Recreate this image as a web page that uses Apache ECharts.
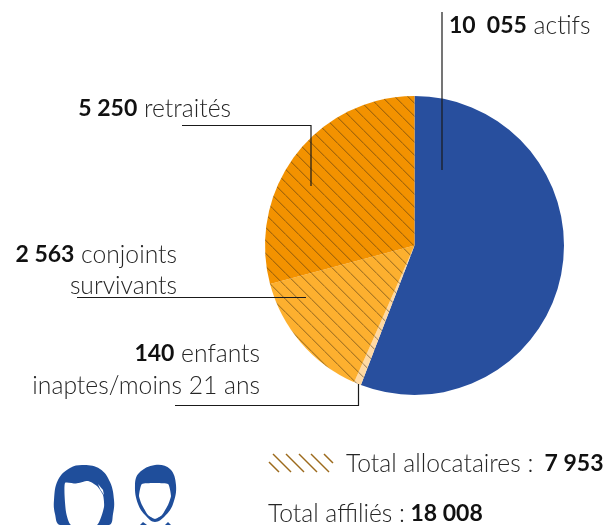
<!DOCTYPE html>
<html>
<head>
<meta charset="utf-8">
<script src="https://cdn.jsdelivr.net/npm/echarts@6/dist/echarts.min.js"></script>
<style>
    html, body { margin: 0; padding: 0; background: #fff; }
    #chart { width: 615px; height: 525px; }
</style>
</head>
<body>
<div id="chart"></div>
<script>
const categories = ['actifs', 'enfants inaptes/moins 21 ans', 'conjoints survivants', 'retraités'];
const values = [10055, 140, 2563, 5250];
const colors = ['#284f9e', '#ffd9a3', '#fdb02f', '#f39200'];
const hatched = [false, true, true, true];
const totalAllocataires = '7 953';
const totalAffilies = '18 008';

const chart = echarts.init(document.getElementById('chart'));
const font = 'Lato';
const textColor = '#262626';
const iconColor = '#1f4e9b';

// texte avec chiffre en gras
function label(x, y, parts, align) {
    return {
        type: 'text',
        x: x,
        y: y,
        style: {
            text: parts,
            align: align || 'right',
            verticalAlign: 'middle',
            rich: {
                b: { fontFamily: font, fontWeight: 700, fontSize: 23, fill: '#111' },
                l: { fontFamily: font, fontWeight: 300, fontSize: 24.7, fill: textColor }
            }
        }
    };
}

function leader(points) {
    return {
        type: 'polyline',
        z: 10,
        shape: { points: points },
        style: { stroke: '#1a1a1a', lineWidth: 1.2, fill: null }
    };
}

function blob(points, fill, smooth) {
    return { type: 'polygon', shape: { points: points, smooth: smooth }, style: { fill: fill } };
}

// hachures : tuile de 13px avec une diagonale
function hatch(base) {
    const size = 13;
    const off = -0.7;
    const canvas = document.createElement('canvas');
    canvas.width = size;
    canvas.height = size;
    const ctx = canvas.getContext('2d');
    ctx.fillStyle = base;
    ctx.fillRect(0, 0, size, size);
    ctx.strokeStyle = 'rgba(70, 50, 20, 0.6)';
    ctx.lineWidth = 1;
    for (let k = -1; k <= 1; k++) {
        ctx.beginPath();
        ctx.moveTo(k * size + off, 0);
        ctx.lineTo(k * size + off + size, size);
        ctx.stroke();
    }
    return { image: canvas, repeat: 'repeat' };
}

const legendHatch = [
    [269, 462, 279, 472],
    [273, 454, 291, 472],
    [286, 454, 304, 472],
    [299, 454, 317, 472],
    [311, 454, 329, 472],
    [324, 454, 333, 463]
];

chart.setOption({
    animation: false,
    backgroundColor: '#fff',
    series: [{
        type: 'pie',
        center: [414.5, 245.5],
        radius: [0, 149.5],
        startAngle: 90,
        clockwise: true,
        silent: true,
        label: { show: false },
        labelLine: { show: false },
        data: categories.map((name, i) => ({
            name: name,
            value: values[i],
            itemStyle: { color: hatched[i] ? hatch(colors[i]) : colors[i] }
        }))
    }],
    graphic: [
        leader([[442, 12], [442, 170]]),
        leader([[182, 125.5], [311, 125.5], [311, 186]]),
        leader([[77, 297.5], [306, 297.5]]),
        leader([[175, 405.5], [358.5, 405.5], [358.5, 384]]),

        label(449, 26, '{b|10  055}{l| actifs}', 'left'),
        label(231, 109, '{b|5 250}{l| retraités}'),
        label(177, 255, '{b|2 563}{l| conjoints}'),
        label(177, 286, '{l|survivants}'),
        label(260, 354, '{b|140}{l| enfants}'),
        label(260, 386, '{l|inaptes/moins 21 ans}'),
        label(346, 464, '{l|Total allocataires :}{b|  ' + totalAllocataires + '}', 'left'),
        label(268, 514, '{l|Total affiliés :}{b| ' + totalAffilies + '}', 'left'),

        // petit motif de la légende
        ...legendHatch.map(s => ({
            type: 'line',
            shape: { x1: s[0], y1: s[1], x2: s[2], y2: s[3] },
            style: { stroke: '#9c6a1c', lineWidth: 1.5 }
        })),

        // icones
        blob([[60, 525], [55, 514], [54, 500], [58, 480], [70, 468], [84, 465], [100, 469], [110, 482], [114, 500], [113, 514], [109, 525]], iconColor, 0.4),
        blob([[71, 525], [66, 512], [65, 483], [76, 483.5], [88, 481], [97, 486], [103, 495], [104, 507], [97, 525]], '#fff', 0.2),
        blob([[98, 484], [103, 490], [104, 495], [100, 489]], '#fff', 0),
        blob([[135, 485], [139, 473], [155, 465], [170, 469], [176, 485], [173, 504], [165, 516], [155, 522], [146, 516], [138, 504]], iconColor, 0.4),
        blob([[142, 484], [168, 484], [171, 496], [168, 505], [162, 515], [155, 519], [148, 515], [142, 505], [139, 496]], '#fff', 0.15),
        blob([[140, 525], [143, 522], [147, 525]], iconColor, 0),
        blob([[165, 525], [168, 522], [171, 525]], iconColor, 0)
    ]
});
</script>
</body>
</html>
